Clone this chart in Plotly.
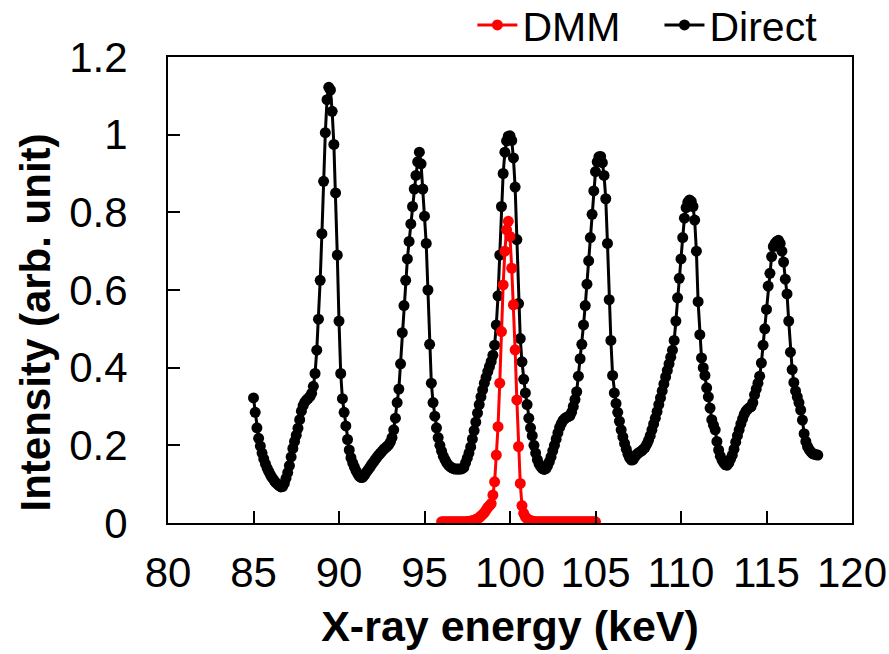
import numpy as np
import plotly.graph_objects as go

# Energy grids (keV), 0.1 keV sampling
direct_energy = np.round(np.arange(850, 1181) / 10.0, 1)
dmm_energy = np.round(np.arange(960, 1051) / 10.0, 1)

# Direct beam intensity, one row per keV (x.0 ... x.9)
direct_intensity = [
    0.322, 0.285, 0.245, 0.218, 0.198, 0.180, 0.165, 0.152, 0.141, 0.132,  # 85
    0.123, 0.116, 0.110, 0.104, 0.100, 0.096, 0.093, 0.094, 0.102, 0.115,  # 86
    0.130, 0.148, 0.170, 0.192, 0.210, 0.226, 0.244, 0.266, 0.288, 0.302,  # 87
    0.311, 0.317, 0.321, 0.326, 0.334, 0.352, 0.385, 0.445, 0.525, 0.625,  # 88
    0.745, 0.880, 1.005, 1.090, 1.122, 1.115, 1.060, 0.975, 0.850, 0.690,  # 89
    0.520, 0.385, 0.320, 0.285, 0.250, 0.215, 0.188, 0.168, 0.155, 0.144,  # 90
    0.134, 0.126, 0.120, 0.117, 0.118, 0.124, 0.131, 0.137, 0.143, 0.150,  # 91
    0.156, 0.162, 0.168, 0.174, 0.179, 0.184, 0.189, 0.193, 0.197, 0.201,  # 92
    0.208, 0.220, 0.240, 0.270, 0.310, 0.345, 0.410, 0.490, 0.560, 0.625,  # 93
    0.680, 0.725, 0.770, 0.815, 0.860, 0.895, 0.930, 0.955, 0.925, 0.860,  # 94
    0.790, 0.720, 0.600, 0.460, 0.360, 0.310, 0.275, 0.245, 0.220, 0.200,  # 95
    0.185, 0.172, 0.163, 0.155, 0.149, 0.145, 0.142, 0.140, 0.139, 0.139,  # 96
    0.139, 0.139, 0.140, 0.143, 0.155, 0.167, 0.180, 0.196, 0.216, 0.238,  # 97
    0.260, 0.283, 0.305, 0.325, 0.343, 0.360, 0.375, 0.390, 0.403, 0.416,  # 98
    0.432, 0.458, 0.510, 0.585, 0.690, 0.815, 0.900, 0.955, 0.984, 0.996,  # 99
    0.997, 0.985, 0.940, 0.865, 0.730, 0.565, 0.475, 0.415, 0.370, 0.335,  # 100
    0.305, 0.270, 0.245, 0.225, 0.200, 0.180, 0.163, 0.152, 0.145, 0.140,  # 101
    0.138, 0.140, 0.148, 0.158, 0.170, 0.186, 0.200, 0.216, 0.232, 0.246,  # 102
    0.256, 0.264, 0.269, 0.272, 0.274, 0.276, 0.285, 0.300, 0.318, 0.338,  # 103
    0.378, 0.423, 0.460, 0.510, 0.560, 0.615, 0.675, 0.735, 0.795, 0.855,  # 104
    0.905, 0.930, 0.943, 0.944, 0.928, 0.895, 0.835, 0.720, 0.575, 0.470,  # 105
    0.380, 0.335, 0.308, 0.285, 0.262, 0.240, 0.222, 0.205, 0.190, 0.177,  # 106
    0.167, 0.162, 0.163, 0.170, 0.176, 0.180, 0.183, 0.186, 0.190, 0.195,  # 107
    0.203, 0.213, 0.225, 0.240, 0.255, 0.270, 0.287, 0.305, 0.322, 0.340,  # 108
    0.358, 0.376, 0.393, 0.410, 0.427, 0.445, 0.470, 0.520, 0.580, 0.630,  # 109
    0.680, 0.735, 0.785, 0.812, 0.826, 0.832, 0.828, 0.815, 0.780, 0.700,  # 110
    0.570, 0.485, 0.425, 0.400, 0.380, 0.348, 0.325, 0.296, 0.266, 0.252,  # 111
    0.240, 0.210, 0.188, 0.172, 0.162, 0.155, 0.150, 0.149, 0.155, 0.165,  # 112
    0.175, 0.190, 0.208, 0.225, 0.240, 0.255, 0.268, 0.280, 0.288, 0.293,  # 113
    0.297, 0.300, 0.310, 0.330, 0.345, 0.360, 0.378, 0.412, 0.458, 0.500,  # 114
    0.550, 0.610, 0.643, 0.686, 0.712, 0.720, 0.725, 0.728, 0.720, 0.700,  # 115
    0.672, 0.628, 0.590, 0.520, 0.440, 0.395, 0.362, 0.340, 0.325, 0.310,  # 116
    0.291, 0.265, 0.230, 0.210, 0.197, 0.189, 0.183, 0.179, 0.177, 0.176,  # 117
    0.175,                                                                 # 118
]

# Double multilayer monochromator output
dmm_intensity = [
    0.003, 0.003, 0.003, 0.003, 0.003, 0.003, 0.003, 0.003, 0.003, 0.003,  # 96
    0.003, 0.003, 0.003, 0.003, 0.003, 0.004, 0.004, 0.005, 0.006, 0.007,  # 97
    0.009, 0.011, 0.014, 0.018, 0.022, 0.027, 0.033, 0.040, 0.045, 0.050,  # 98
    0.072, 0.106, 0.175, 0.248, 0.360, 0.493, 0.613, 0.700, 0.755, 0.777,  # 99
    0.738, 0.656, 0.562, 0.446, 0.317, 0.197, 0.102, 0.045, 0.025, 0.016,  # 100
    0.011, 0.008, 0.006, 0.005, 0.004, 0.003, 0.003, 0.003, 0.003, 0.003,  # 101
    0.003, 0.003, 0.003, 0.003, 0.003, 0.003, 0.003, 0.003, 0.003, 0.003,  # 102
    0.003, 0.003, 0.003, 0.003, 0.003, 0.003, 0.003, 0.003, 0.003, 0.003,  # 103
    0.003, 0.003, 0.003, 0.003, 0.003, 0.003, 0.003, 0.003, 0.003, 0.003,  # 104
    0.003,                                                                 # 105
]

x_ticks = [80, 85, 90, 95, 100, 105, 110, 115, 120]
y_ticks = [0, 0.2, 0.4, 0.6, 0.8, 1.0, 1.2]
y_tick_text = ["0", "0.2", "0.4", "0.6", "0.8", "1", "1.2"]

assert len(direct_intensity) == len(direct_energy)
assert len(dmm_intensity) == len(dmm_energy)

FONT = "Liberation Sans, Arial, sans-serif"

fig = go.Figure()
fig.add_trace(go.Scatter(
    x=direct_energy, y=direct_intensity, name="Direct",
    mode="lines+markers",
    line=dict(color="black", width=3),
    marker=dict(color="black", size=11),
    legendrank=2,
))
fig.add_trace(go.Scatter(
    x=dmm_energy, y=dmm_intensity, name="DMM   ",
    mode="lines+markers",
    line=dict(color="#ff0000", width=3),
    marker=dict(color="#ff0000", size=11),
    legendrank=1,
))

fig.update_layout(
    width=889, height=654,
    margin=dict(l=168, r=37, t=57, b=131, autoexpand=False),
    paper_bgcolor="white", plot_bgcolor="white",
    font=dict(family=FONT, size=42, color="black"),
    showlegend=True,
    legend=dict(
        orientation="h", x=0.445, y=1.068, xanchor="left", yanchor="middle",
        font=dict(size=41), bgcolor="rgba(0,0,0,0)",
        itemwidth=40, tracegroupgap=0,
    ),
    xaxis=dict(
        range=[80, 120], tickmode="array", tickvals=x_ticks,
        ticks="inside", ticklen=12, tickwidth=1.5, tickcolor="black",
        showline=True, linecolor="black", linewidth=2, mirror=True,
        showgrid=False, zeroline=False,
        tickfont=dict(size=42), ticklabelstandoff=12,
        title=dict(text="<b>X-ray energy (keV)</b>", font=dict(size=43), standoff=15),
    ),
    yaxis=dict(
        range=[0, 1.2], tickmode="array", tickvals=y_ticks, ticktext=y_tick_text,
        ticks="inside", ticklen=12, tickwidth=1.5, tickcolor="black",
        showline=True, linecolor="black", linewidth=2, mirror=True,
        showgrid=False, zeroline=False,
        tickfont=dict(size=42), ticklabelstandoff=30,
    ),
    annotations=[dict(
        text="<b>Intensity (arb. unit)</b>", textangle=-90,
        xref="paper", yref="paper", x=-0.194, y=0.431,
        xanchor="center", yanchor="middle", showarrow=False,
        font=dict(size=42),
    )],
)

fig.write_html("out.html")
